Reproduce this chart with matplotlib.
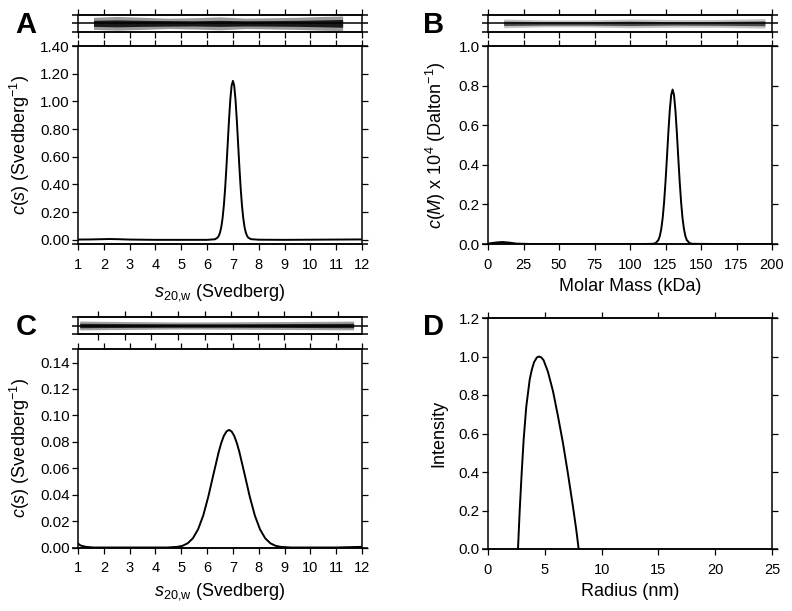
import matplotlib.pyplot as plt

plt.rcParams['font.family'] = ['Liberation Sans', 'DejaVu Sans']
plt.rcParams['mathtext.fontset'] = 'custom'
plt.rcParams['mathtext.rm'] = 'Liberation Sans'
plt.rcParams['mathtext.it'] = 'Liberation Sans:italic'
plt.rcParams['mathtext.bf'] = 'Liberation Sans:bold'

# ---- panel A: c(s) distribution
s_a = [1.0, 1.5, 2.0, 2.2, 2.5, 3.0, 4.0, 5.0, 6.0, 6.3,
       6.40, 6.45, 6.50, 6.55, 6.60, 6.65, 6.70, 6.75, 6.80, 6.85, 6.90, 6.95,
       7.00, 7.05, 7.10, 7.15, 7.20, 7.25, 7.30, 7.35, 7.40, 7.45, 7.50, 7.55, 7.60,
       7.7, 8.0, 9.0, 10.0, 11.0, 12.0]
c_a = [0.002, 0.003, 0.005, 0.006, 0.005, 0.002, 0.0, 0.0, 0.0, 0.004,
       0.015, 0.028, 0.052, 0.093, 0.157, 0.250, 0.375, 0.528, 0.699, 0.869, 1.014, 1.114,
       1.148, 1.114, 1.014, 0.869, 0.699, 0.528, 0.375, 0.250, 0.157, 0.093, 0.052, 0.028, 0.015,
       0.005, 0.001, 0.0, 0.001, 0.002, 0.003]
# residual band envelope (core / spikes)
res_a_x = [1.6, 2.5, 3.5, 4.5, 5.5, 6.5, 7.5, 8.5, 9.5, 10.5, 11.25]
res_a_core = [0.35, 0.40, 0.35, 0.32, 0.30, 0.35, 0.30, 0.32, 0.35, 0.40, 0.45]
res_a_spike = [0.70, 0.80, 0.70, 0.60, 0.65, 0.75, 0.60, 0.65, 0.70, 0.80, 0.85]

# ---- panel B: c(M) distribution
m_b = [0, 5, 10, 15, 20, 30, 60, 90, 110, 116, 118,
       120, 121, 122, 123, 124, 125, 126, 127, 128, 129, 130,
       131, 132, 133, 134, 135, 136, 137, 138, 139, 140,
       142, 144, 160, 180, 200]
c_b = [0.002, 0.007, 0.010, 0.007, 0.002, 0.0, 0.0, 0.0, 0.0, 0.001, 0.004,
       0.020, 0.040, 0.075, 0.130, 0.210, 0.314, 0.435, 0.562, 0.674, 0.752, 0.780,
       0.752, 0.674, 0.562, 0.435, 0.314, 0.210, 0.130, 0.075, 0.040, 0.020,
       0.004, 0.001, 0.0, 0.0, 0.0]
res_b_x = [11, 40, 70, 100, 130, 160, 195]
res_b_core = [0.25, 0.20, 0.20, 0.25, 0.20, 0.22, 0.28]
res_b_spike = [0.50, 0.40, 0.40, 0.50, 0.45, 0.45, 0.55]

# ---- panel C: c(s) distribution
s_c = [1.0, 1.1, 1.3, 1.6, 2.0, 3.0, 4.0, 4.45,
       4.85, 5.05, 5.25, 5.45, 5.65, 5.85, 6.05, 6.25, 6.45, 6.55, 6.65, 6.75, 6.85,
       6.95, 7.05, 7.15, 7.25, 7.45, 7.65, 7.85, 8.05, 8.25, 8.45, 8.65, 8.85,
       9.25, 10.0, 11.0, 12.0]
c_c = [0.003, 0.0015, 0.0005, 0.0, 0.0, 0.0, 0.0, 0.0,
       0.0005, 0.0013, 0.0032, 0.0070, 0.0137, 0.0242, 0.0387, 0.0557, 0.0723, 0.0792, 0.0845, 0.0878, 0.0890,
       0.0878, 0.0845, 0.0792, 0.0723, 0.0557, 0.0387, 0.0242, 0.0137, 0.0070, 0.0032, 0.0013, 0.0005,
       0.0, 0.0, 0.0, 0.0005]
# residuals for C are plotted against radius (cm)
res_c_x = [5.93, 6.1, 6.3, 6.5, 6.7, 6.96]
res_c_core = [0.25, 0.22, 0.20, 0.20, 0.22, 0.25]
res_c_spike = [0.50, 0.45, 0.40, 0.42, 0.45, 0.50]
res_c_ticks = [6.0, 6.1, 6.2, 6.3, 6.4, 6.5, 6.6, 6.7, 6.8, 6.9]

# ---- panel D: DLS intensity distribution
r_d = [2.64, 2.79, 2.96, 3.14, 3.37, 3.67, 3.85, 4.05, 4.30, 4.49, 4.70, 4.90,
       5.28, 5.72, 6.16, 6.60, 7.04, 7.48, 7.77, 7.98]
i_d = [0.0, 0.20, 0.39, 0.57, 0.74, 0.88, 0.93, 0.97, 0.995, 1.0, 0.995, 0.98,
       0.92, 0.82, 0.69, 0.55, 0.39, 0.22, 0.10, 0.0]

W, H = 792, 611
fig = plt.figure(figsize=(W / 100, H / 100), dpi=100)


def box(x0, y0, x1, y1):
    # pixel box (top-left origin) -> figure fraction rect
    return [x0 / W, 1 - y1 / H, (x1 - x0) / W, (y1 - y0) / H]


def extend_h(ax, ys, ext=0.02):
    for y in ys:
        ax.plot([-ext, 1 + ext], [y, y], transform=ax.transAxes, color='black',
                lw=1.1, clip_on=False, solid_capstyle='butt')


def style_main(ax):
    for sp in ax.spines.values():
        sp.set_linewidth(1.1)
    ax.tick_params(direction='out', length=4, width=0.9, top=True, right=True)
    ax.tick_params(axis='y', labelsize=11, pad=2)
    ax.tick_params(axis='x', labelsize=10.5, pad=6)
    extend_h(ax, [0, 1])


def style_resid(ax, xlim, ticks):
    ax.set_xlim(xlim)
    ax.set_ylim(-1, 1)
    ax.set_xticks(ticks)
    ax.set_yticks([])
    ax.tick_params(direction='out', length=4, width=0.9, top=True, bottom=True,
                   labelbottom=False, labeltop=False)
    for sp in ax.spines.values():
        sp.set_linewidth(1.1)
    extend_h(ax, [0, 0.5, 1])


lab = 13
s_label = r'$s_{20{,}\mathrm{w}}$ (Svedberg)'

# A
axr = fig.add_axes(box(78, 14.7, 362, 32))
style_resid(axr, (1, 12), range(1, 13))
axr.fill_between(res_a_x, [-v for v in res_a_spike], res_a_spike, color='#9a9a9a', lw=0)
axr.fill_between(res_a_x, [-v for v in res_a_core], res_a_core, color='#1a1a1a', lw=0)

ax = fig.add_axes(box(78, 46, 362, 244))
ax.plot(s_a, c_a, color='black', lw=1.4)
ax.set_xlim(1, 12)
ax.set_ylim(-0.03, 1.40)
ax.set_xticks(range(1, 13))
ax.set_yticks([0, 0.2, 0.4, 0.6, 0.8, 1.0, 1.2, 1.4])
ax.set_yticklabels(['%.2f' % v for v in ax.get_yticks()])
style_main(ax)
ax.set_ylabel(r'$c(s)$ (Svedberg$^{-1}$)', fontsize=lab)
ax.yaxis.set_label_coords(-0.163, 0.5)
ax.set_xlabel(s_label, fontsize=lab)
ax.xaxis.set_label_coords(0.5, -0.19)

# B
axr = fig.add_axes(box(488, 14.7, 772, 32))
style_resid(axr, (0, 200), range(0, 201, 25))
axr.fill_between(res_b_x, [-v for v in res_b_spike], res_b_spike, color='#c4c4c4', lw=0)
axr.fill_between(res_b_x, [-v for v in res_b_core], res_b_core, color='#4a4a4a', lw=0)

ax = fig.add_axes(box(488, 46, 772, 244))
ax.plot(m_b, c_b, color='black', lw=1.4)
ax.set_xlim(0, 200)
ax.set_ylim(0, 1.0)
ax.set_xticks(range(0, 201, 25))
ax.set_yticks([0, 0.2, 0.4, 0.6, 0.8, 1.0])
ax.set_yticklabels(['%.1f' % v for v in ax.get_yticks()])
style_main(ax)
ax.set_ylabel(r'$c(M)$ x 10$^4$ (Dalton$^{-1}$)', fontsize=lab)
ax.yaxis.set_label_coords(-0.14, 0.5)
ax.set_xlabel('Molar Mass (kDa)', fontsize=lab)
ax.xaxis.set_label_coords(0.5, -0.173)

# C
axr = fig.add_axes(box(78, 316.7, 362, 334.3))
style_resid(axr, (5.9237, 6.9914), res_c_ticks)
axr.fill_between(res_c_x, [-v for v in res_c_spike], res_c_spike, color='#a0a0a0', lw=0)
axr.fill_between(res_c_x, [-v for v in res_c_core], res_c_core, color='#222222', lw=0)

ax = fig.add_axes(box(78, 349.3, 362, 547.5))
ax.plot(s_c, c_c, color='black', lw=1.4)
ax.set_xlim(1, 12)
ax.set_ylim(0, 0.15)
ax.set_xticks(range(1, 13))
ax.set_yticks([0, 0.02, 0.04, 0.06, 0.08, 0.10, 0.12, 0.14])
ax.set_yticklabels(['%.2f' % v for v in ax.get_yticks()])
style_main(ax)
ax.set_ylabel(r'$c(s)$ (Svedberg$^{-1}$)', fontsize=lab)
ax.yaxis.set_label_coords(-0.163, 0.5)
ax.set_xlabel(s_label, fontsize=lab)
ax.xaxis.set_label_coords(0.5, -0.172)

# D
ax = fig.add_axes(box(488, 318, 772, 549))
ax.plot(r_d, i_d, color='black', lw=1.4)
ax.set_xlim(0, 25)
ax.set_ylim(0, 1.2)
ax.set_xticks(range(0, 26, 5))
ax.set_yticks([0, 0.2, 0.4, 0.6, 0.8, 1.0, 1.2])
ax.set_yticklabels(['%.1f' % v for v in ax.get_yticks()])
style_main(ax)
ax.set_ylabel('Intensity', fontsize=lab)
ax.yaxis.set_label_coords(-0.144, 0.5)
ax.set_xlabel('Radius (nm)', fontsize=lab)
ax.xaxis.set_label_coords(0.5, -0.146)

# panel letters
for letter, x, y in [('A', 15, 33), ('B', 423, 33), ('C', 16, 335), ('D', 423, 335)]:
    fig.text(x / W, 1 - y / H, letter, fontsize=21, fontweight='bold', va='baseline')

fig.savefig('out.png', dpi=100)
